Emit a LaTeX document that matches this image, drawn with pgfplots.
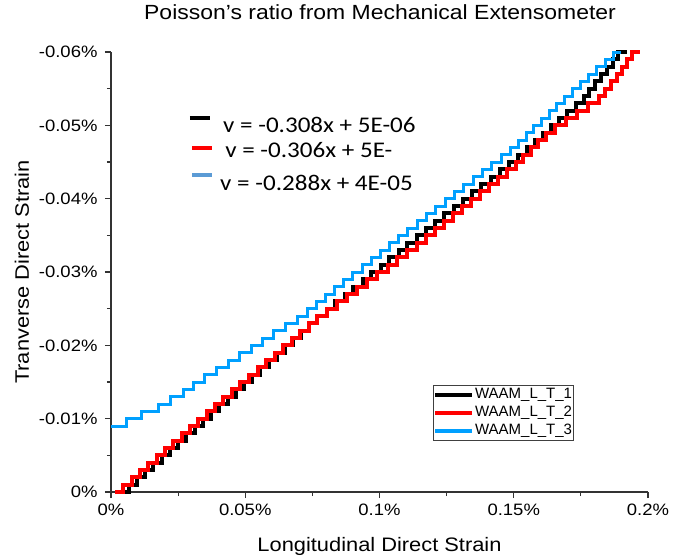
\documentclass[border=0pt]{standalone}
\usepackage{pgfplots}
\pgfplotsset{compat=1.18}
\usepackage{fontspec}
\setmainfont{Liberation Sans}[FakeStretch=1.12]
\newfontfamily\legfont{Liberation Sans}
\newfontfamily\calibri{Carlito}[FakeStretch=1.12]
\definecolor{bl}{RGB}{0,160,255}
\definecolor{eqblue}{RGB}{91,155,213}
\begin{document}
\begin{tikzpicture}
\path[use as bounding box] (-111pt,-68pt) rectangle (570pt,492pt);
\begin{axis}[
  at={(0pt,0pt)}, anchor=south west,
  scale only axis, width=537pt, height=440pt,
  xmin=0, xmax=0.2, ymin=-0.06, ymax=0, y dir=reverse,
  axis lines*=left,
  axis line style={black!80, line width=1.2pt},
  clip=false,
  scaled x ticks=false, scaled y ticks=false,
  xtick={0,0.05,0.1,0.15,0.2},
  xticklabels={0\%,0.05\%,0.1\%,0.15\%,0.2\%},
  ytick={-0.06,-0.05,-0.04,-0.03,-0.02,-0.01,0},
  yticklabels={-0.06\%,-0.05\%,-0.04\%,-0.03\%,-0.02\%,-0.01\%,0\%},
  minor x tick num=1, minor y tick num=1,
  tick align=outside,
  major tick length=6pt, minor tick length=4pt,
  tick style={black!80, line width=1.2pt},
  ticklabel style={font=\fontsize{16.5}{18}\selectfont},
  xticklabel style={yshift=-2pt},
  yticklabel style={xshift=-4pt},
  /pgf/number format/assume math mode=true,
  xlabel={Longitudinal Direct Strain},
  ylabel={Tranverse Direct Strain},
  label style={font=\fontsize{19.5}{22}\selectfont},
  xlabel style={at={(axis description cs:0.5,-0.1227)}, anchor=center},
  ylabel style={at={(axis description cs:-0.1657,0.5)}, anchor=center},
  title={Poisson's ratio from Mechanical Extensometer},
  title style={font=\fontsize{20.5}{22}\selectfont, at={(axis description cs:0.501,1.077)}, anchor=center},
  legend style={at={(0.6,0.243)}, anchor=north west, font=\legfont\fontsize{15}{15}\selectfont,
    draw=black!75, line width=0.8pt, inner xsep=0pt, inner ysep=0.5pt, row sep=0pt,
    nodes={inner xsep=1pt, inner ysep=2pt, text height=11pt, text depth=3pt},
    /tikz/every even column/.style={column sep=0pt}},
  legend cell align=left,
  legend image code/.code={\draw[#1, line width=3.5pt] (-1pt,0pt) -- (36pt,0pt);},
]
\addplot[const plot, black, line width=4pt] coordinates {
(0.0035,0) (0.0066,-0.001) (0.0097,-0.002) (0.0127,-0.003) (0.0158,-0.004) (0.0189,-0.005) (0.0220,-0.006) (0.0250,-0.007) (0.0281,-0.008) (0.0312,-0.009) (0.0343,-0.010) (0.0374,-0.011) (0.0404,-0.012) (0.0435,-0.013) (0.0465,-0.014) (0.0496,-0.015) (0.0526,-0.016) (0.0556,-0.017) (0.0587,-0.018) (0.0617,-0.019) (0.0648,-0.020) (0.0678,-0.021) (0.0708,-0.022) (0.0739,-0.023) (0.0769,-0.024) (0.0803,-0.025) (0.0836,-0.026) (0.0870,-0.027) (0.0903,-0.028) (0.0937,-0.029) (0.0970,-0.030) (0.1004,-0.031) (0.1037,-0.032) (0.1071,-0.033) (0.1104,-0.034) (0.1139,-0.035) (0.1173,-0.036) (0.1207,-0.037) (0.1242,-0.038) (0.1276,-0.039) (0.1311,-0.040) (0.1345,-0.041) (0.1379,-0.042) (0.1414,-0.043) (0.1448,-0.044) (0.1483,-0.045) (0.1517,-0.046) (0.1548,-0.047) (0.1578,-0.048) (0.1609,-0.049) (0.1639,-0.050) (0.1670,-0.051) (0.1700,-0.052) (0.1731,-0.053) (0.1761,-0.054) (0.1782,-0.055) (0.1804,-0.056) (0.1825,-0.057) (0.1847,-0.058) (0.1868,-0.059) (0.1888,-0.060) (0.1920,-0.060)
};
\addlegendentry{WAAM\_L\_T\_1}
\addplot[const plot, red, line width=4pt] coordinates {
(0.0015,0) (0.0046,-0.001) (0.0077,-0.002) (0.0108,-0.003) (0.0139,-0.004) (0.0170,-0.005) (0.0201,-0.006) (0.0232,-0.007) (0.0263,-0.008) (0.0294,-0.009) (0.0325,-0.010) (0.0356,-0.011) (0.0387,-0.012) (0.0418,-0.013) (0.0450,-0.014) (0.0482,-0.015) (0.0514,-0.016) (0.0546,-0.017) (0.0577,-0.018) (0.0609,-0.019) (0.0641,-0.020) (0.0673,-0.021) (0.0705,-0.022) (0.0737,-0.023) (0.0769,-0.024) (0.0806,-0.025) (0.0843,-0.026) (0.0880,-0.027) (0.0918,-0.028) (0.0955,-0.029) (0.0992,-0.030) (0.1030,-0.031) (0.1067,-0.032) (0.1104,-0.033) (0.1141,-0.034) (0.1175,-0.035) (0.1208,-0.036) (0.1241,-0.037) (0.1274,-0.038) (0.1308,-0.039) (0.1341,-0.040) (0.1374,-0.041) (0.1407,-0.042) (0.1441,-0.043) (0.1474,-0.044) (0.1507,-0.045) (0.1536,-0.046) (0.1564,-0.047) (0.1591,-0.048) (0.1619,-0.049) (0.1655,-0.050) (0.1696,-0.051) (0.1736,-0.052) (0.1777,-0.053) (0.1816,-0.054) (0.1839,-0.055) (0.1862,-0.056) (0.1885,-0.057) (0.1905,-0.058) (0.1922,-0.059) (0.1940,-0.060) (0.1970,-0.060)
};
\addlegendentry{WAAM\_L\_T\_2}
\addplot[const plot, bl, line width=3pt] coordinates {
(0,-0.009) (0.0058,-0.010) (0.0114,-0.011) (0.0176,-0.012) (0.0220,-0.013) (0.0269,-0.014) (0.0307,-0.015) (0.0350,-0.016) (0.0393,-0.017) (0.0436,-0.018) (0.0479,-0.019) (0.0522,-0.020) (0.0565,-0.021) (0.0607,-0.022) (0.0650,-0.023) (0.0693,-0.024) (0.0730,-0.025) (0.0764,-0.026) (0.0798,-0.027) (0.0832,-0.028) (0.0866,-0.029) (0.0900,-0.030) (0.0935,-0.031) (0.0969,-0.032) (0.1003,-0.033) (0.1037,-0.034) (0.1071,-0.035) (0.1105,-0.036) (0.1140,-0.037) (0.1175,-0.038) (0.1210,-0.039) (0.1245,-0.040) (0.1279,-0.041) (0.1314,-0.042) (0.1349,-0.043) (0.1384,-0.044) (0.1418,-0.045) (0.1453,-0.046) (0.1488,-0.047) (0.1518,-0.048) (0.1546,-0.049) (0.1575,-0.050) (0.1603,-0.051) (0.1632,-0.052) (0.1660,-0.053) (0.1690,-0.054) (0.1720,-0.055) (0.1750,-0.056) (0.1780,-0.057) (0.1810,-0.058) (0.1840,-0.059) (0.1870,-0.060) (0.1900,-0.060)
};
\addlegendentry{WAAM\_L\_T\_3}
\draw[black, line width=4pt] (axis cs:0.0294,-0.0510) -- (axis cs:0.0369,-0.0510);
\draw[red, line width=4pt] (axis cs:0.0302,-0.0469) -- (axis cs:0.0376,-0.0469);
\draw[eqblue, line width=3.5pt] (axis cs:0.0302,-0.0432) -- (axis cs:0.0376,-0.0432);
\node[anchor=base west, inner sep=0pt, font=\calibri\fontsize{22.4}{24}\selectfont] at (axis cs:0.0417,-0.04896) {v = -0.308x + 5E-06};
\node[anchor=base west, inner sep=0pt, font=\calibri\fontsize{22.4}{24}\selectfont] at (axis cs:0.0425,-0.04568) {v = -0.306x + 5E-};
\node[anchor=base west, inner sep=0pt, font=\calibri\fontsize{22.4}{24}\selectfont] at (axis cs:0.0406,-0.04118) {v = -0.288x + 4E-05};
\end{axis}
\end{tikzpicture}
\end{document}
